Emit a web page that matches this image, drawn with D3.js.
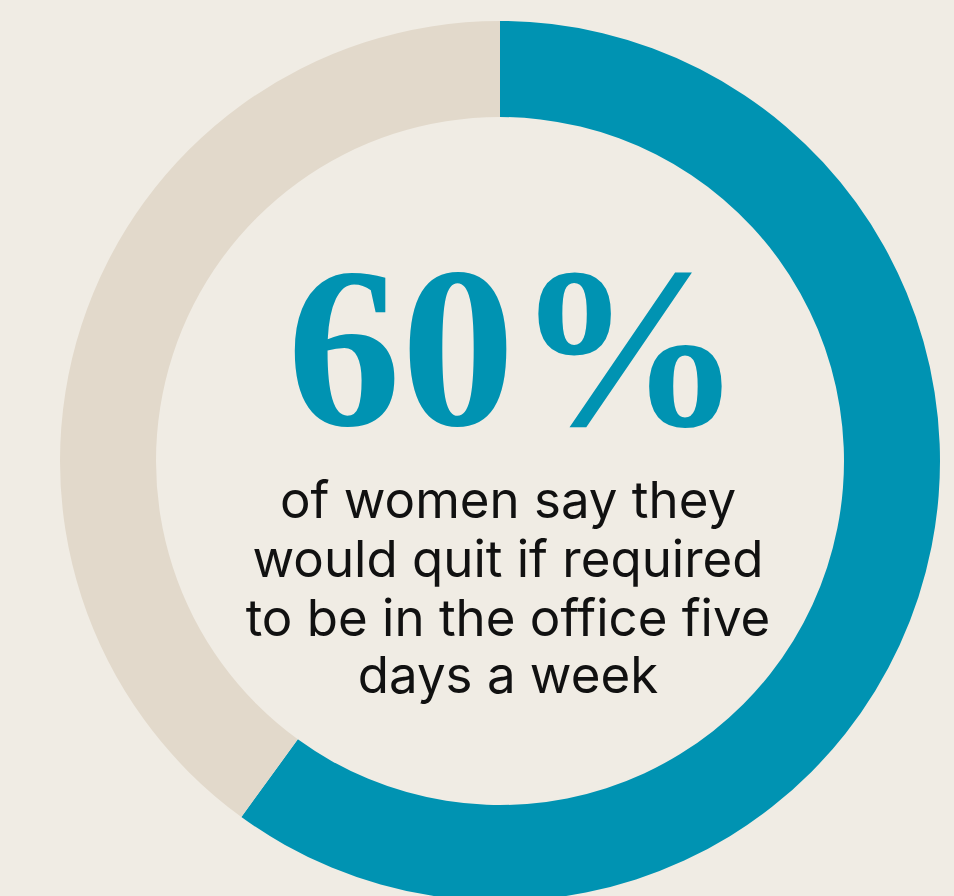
<!DOCTYPE html>
<html>
<head>
<meta charset="utf-8">
<script src="https://cdn.jsdelivr.net/npm/d3@7"></script>
<style>
  html, body { margin: 0; padding: 0; background: #F0ECE4; }
  svg { display: block; }
</style>
</head>
<body>
<svg id="chart" width="954" height="896"></svg>
<script>
// Share of women who would quit vs. the rest
const categories = ["Would quit", "Would not quit"];
const shares = [60, 40];
const sliceColors = ["#0093B2", "#E2D9CB"];
const headline = "60%";
const captionLines = [
  "of women say they",
  "would quit if required",
  "to be in the office five",
  "days a week"
];

const width = 954, height = 896;
const cx = 500, cy = 461;
const outerR = 440, innerR = 344;

const svg = d3.select("#chart");
svg.append("rect").attr("width", width).attr("height", height).attr("fill", "#F0ECE4");

const g = svg.append("g").attr("transform", `translate(${cx},${cy})`);

const pie = d3.pie().sort(null).value(d => d.value);
const arc = d3.arc().innerRadius(innerR).outerRadius(outerR);

const data = categories.map((c, i) => ({ name: c, value: shares[i] }));

g.selectAll("path.slice")
  .data(pie(data))
  .join("path")
  .attr("class", "slice")
  .attr("d", arc)
  .attr("fill", (d, i) => sliceColors[i]);

// Headline figure
g.append("text")
  .attr("x", 15)
  .attr("y", 425 - cy)
  .attr("text-anchor", "middle")
  .attr("font-family", "'Liberation Serif', 'DejaVu Serif', serif")
  .attr("font-weight", "bold")
  .attr("font-size", 228)
  .attr("fill", "#0093B2")
  .text(headline);

// Caption
const baselines = [518, 577, 636, 693];
g.selectAll("text.caption")
  .data(captionLines)
  .join("text")
  .attr("class", "caption")
  .attr("x", 8)
  .attr("y", (d, i) => baselines[i] - cy)
  .attr("text-anchor", "middle")
  .attr("font-family", "Inter, 'Open Sans', sans-serif")
  .attr("font-size", 51)
  .attr("fill", "#111111")
  .text(d => d);
</script>
</body>
</html>
